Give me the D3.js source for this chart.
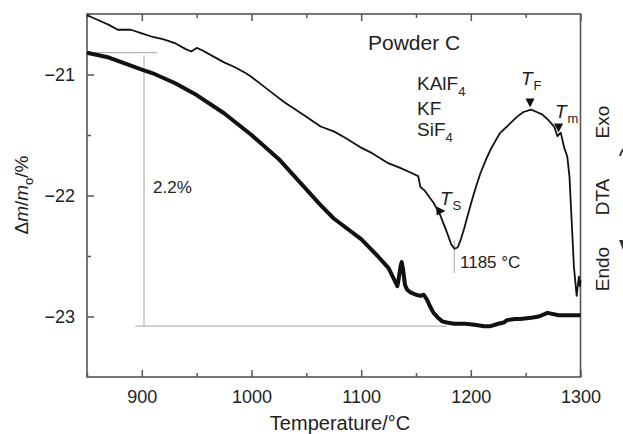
<!DOCTYPE html>
<html>
<head>
<meta charset="utf-8">
<script src="https://cdn.jsdelivr.net/npm/d3@7"></script>
<style>
    body { margin: 0; background: #fff; }
    svg text { font-family: "Liberation Sans", Arial, sans-serif; fill: #222; }
</style>
</head>
<body>
<div id="chart"></div>
<script>
// TG curve (thick): temperature / mass change %
let tgTemp = [850, 870, 900, 910, 930, 950, 975, 1000, 1025, 1050, 1063, 1075, 1100, 1115, 1125, 1133,
    1134, 1136, 1137, 1138, 1140, 1142, 1145, 1150, 1154, 1157, 1160, 1163, 1166, 1170, 1174, 1178,
    1185, 1195, 1205, 1212, 1218, 1225, 1230, 1233, 1240, 1245, 1255, 1262, 1270, 1280, 1290, 1300];
let tgMass = [-20.82, -20.86, -20.96, -20.99, -21.07, -21.17, -21.32, -21.50, -21.70, -21.95, -22.08, -22.19, -22.36, -22.50, -22.60, -22.75,
    -22.70, -22.58, -22.55, -22.60, -22.74, -22.78, -22.80, -22.82, -22.83, -22.82, -22.86, -22.92, -22.97, -23.01, -23.04, -23.05,
    -23.06, -23.06, -23.07, -23.08, -23.08, -23.06, -23.05, -23.03, -23.02, -23.02, -23.01, -23.00, -22.97, -22.99, -22.99, -22.99];

// DTA curve (thin), drawn on the same vertical scale
let dtaTemp = [850, 860, 870, 878, 885, 890, 900, 910, 920, 930, 940, 945, 950, 955, 965, 975, 985, 995,
    1000, 1010, 1020, 1030, 1040, 1050, 1063, 1075, 1085, 1099, 1110, 1124, 1135, 1145, 1152, 1154, 1158,
    1166, 1172, 1178, 1182, 1185, 1188, 1191, 1194, 1197, 1201, 1205, 1209, 1214, 1218, 1223, 1227, 1233,
    1242, 1248, 1255, 1260, 1265, 1270, 1276, 1279, 1282, 1285, 1288, 1290, 1291, 1292.5, 1294, 1296.5, 1298.5, 1299.5, 1300];
let dtaSignal = [-20.51, -20.55, -20.59, -20.63, -20.63, -20.63, -20.66, -20.69, -20.71, -20.74, -20.79, -20.81, -20.78, -20.80, -20.85, -20.90, -20.94, -20.99,
    -21.02, -21.09, -21.16, -21.23, -21.29, -21.35, -21.43, -21.47, -21.52, -21.60, -21.65, -21.73, -21.77, -21.81, -21.84, -21.93, -21.96,
    -22.06, -22.16, -22.30, -22.40, -22.44, -22.43, -22.36, -22.27, -22.17, -22.04, -21.92, -21.81, -21.70, -21.62, -21.54, -21.48, -21.43,
    -21.35, -21.31, -21.29, -21.31, -21.33, -21.37, -21.43, -21.51, -21.48, -21.60, -21.68, -21.85, -22.04, -22.31, -22.59, -22.83, -22.67, -22.75, -22.70];

let xTicks = [900, 1000, 1100, 1200, 1300];
let xMinorTicks = [850, 950, 1050, 1150, 1250];
let yTicks = [-21, -22, -23];
let yMinorTicks = [-20.5, -21.5, -22.5];

let width = 623;
let height = 434;

let x = d3.scaleLinear().domain([850, 1300]).range([87, 580.5]);
let y = d3.scaleLinear().domain([-23.5, -20.5]).range([377, 14]);

let svg = d3.select("#chart")
    .append("svg")
    .attr("width", width)
    .attr("height", height);

let frameColor = "#555";

// Ticks (inward) on bottom and top.
let xAxisBottom = d3.axisBottom(x).tickValues(xTicks).tickSizeInner(-7).tickSizeOuter(0).tickPadding(13)
    .tickFormat(d3.format("d"));
let xAxisBottomMinor = d3.axisBottom(x).tickValues(xMinorTicks).tickSizeInner(-4).tickSizeOuter(0).tickFormat("");
let xAxisTop = d3.axisTop(x).tickValues(xTicks).tickSizeInner(-7).tickSizeOuter(0).tickFormat("");
let xAxisTopMinor = d3.axisTop(x).tickValues(xMinorTicks).tickSizeInner(-4).tickSizeOuter(0).tickFormat("");
let yAxis = d3.axisLeft(y).tickValues(yTicks).tickSizeInner(-7).tickSizeOuter(0).tickPadding(12)
    .tickFormat(d => "\u2212" + Math.abs(d));
let yAxisMinor = d3.axisLeft(y).tickValues(yMinorTicks).tickSizeInner(-4).tickSizeOuter(0).tickFormat("");

function styleAxis(g) {
    g.select(".domain").remove();
    g.selectAll(".tick line").attr("stroke", frameColor).attr("stroke-width", 1.5);
    g.selectAll(".tick text")
        .attr("font-size", 18)
        .attr("font-family", "Liberation Sans, Arial, sans-serif")
        .attr("fill", "#222");
}

svg.append("g").attr("transform", `translate(0,${y.range()[0]})`).call(xAxisBottom).call(styleAxis);
svg.append("g").attr("transform", `translate(0,${y.range()[0]})`).call(xAxisBottomMinor).call(styleAxis);
svg.append("g").attr("transform", `translate(0,${y.range()[1]})`).call(xAxisTop).call(styleAxis);
svg.append("g").attr("transform", `translate(0,${y.range()[1]})`).call(xAxisTopMinor).call(styleAxis);
svg.append("g").attr("transform", `translate(${x.range()[0]},0)`).call(yAxis).call(styleAxis);
svg.append("g").attr("transform", `translate(${x.range()[0]},0)`).call(yAxisMinor).call(styleAxis);

// Frame.
svg.append("rect")
    .attr("x", x.range()[0])
    .attr("y", y.range()[1])
    .attr("width", x.range()[1] - x.range()[0])
    .attr("height", y.range()[0] - y.range()[1])
    .attr("fill", "none")
    .attr("stroke", frameColor)
    .attr("stroke-width", 1.6);

// Gray guide lines for the 2.2% mass loss and the 1185 °C minimum.
let guide = "#b5b5b5";
let guides = [
    [[850, -20.82], [914, -20.82]],
    [[902, -20.84], [902, -23.08]],
    [[894, -23.08], [1178, -23.08]],
    [[1185, -22.37], [1185, -22.64]]
];
guides.forEach(function(seg) {
    svg.append("line")
        .attr("x1", x(seg[0][0])).attr("y1", y(seg[0][1]))
        .attr("x2", x(seg[1][0])).attr("y2", y(seg[1][1]))
        .attr("stroke", guide)
        .attr("stroke-width", 1.2);
});

let line = d3.line()
    .x(d => x(d[0]))
    .y(d => y(d[1]));

// DTA curve.
svg.append("path")
    .datum(dtaTemp.map((t, i) => [t, dtaSignal[i]]))
    .attr("d", line)
    .attr("fill", "none")
    .attr("stroke", "#111")
    .attr("stroke-width", 1.8)
    .attr("stroke-linejoin", "round");

// TG curve.
svg.append("path")
    .datum(tgTemp.map((t, i) => [t, tgMass[i]]))
    .attr("d", line)
    .attr("fill", "none")
    .attr("stroke", "#111")
    .attr("stroke-width", 4)
    .attr("stroke-linejoin", "round");

// Labels inside the plot.
svg.append("text").attr("x", 368).attr("y", 50).attr("font-size", 21).text("Powder C");

function formula(xPos, yPos, main, sub) {
    let t = svg.append("text").attr("x", xPos).attr("y", yPos).attr("font-size", 19);
    t.append("tspan").text(main);
    if (sub) t.append("tspan").attr("font-size", 13).attr("dy", 6).text(sub);
}
formula(417, 90, "KAlF", "4");
formula(417, 115, "KF");
formula(417, 136, "SiF", "4");

svg.append("text").attr("x", 153).attr("y", 193).attr("font-size", 17).text("2.2%");
svg.append("text").attr("x", 460).attr("y", 268).attr("font-size", 17).text("1185 \u00B0C");

// Characteristic temperatures with markers.
function tLabel(xPos, yPos, sub) {
    let t = svg.append("text").attr("x", xPos).attr("y", yPos).attr("font-size", 19);
    t.append("tspan").attr("font-style", "italic").text("T");
    t.append("tspan").attr("font-size", 13).attr("dy", 5).attr("dx", 1).text(sub);
}
tLabel(521, 85, "F");
tLabel(555, 118, "m");
tLabel(440, 205, "S");

function triangle(cx, cy, dir) {
    let s = 4.5;
    let pts = dir === "down"
        ? [[cx - s, cy - s], [cx + s, cy - s], [cx, cy + s]]
        : [[cx - s, cy - s], [cx + s, cy], [cx - s, cy + s]];
    svg.append("path")
        .attr("d", "M" + pts.map(p => p.join(",")).join("L") + "Z")
        .attr("fill", "#111");
}
triangle(x(1254), 103, "down");
triangle(x(1280), 128, "down");
triangle(441, 211, "right");

// Axis titles.
svg.append("text")
    .attr("x", 340)
    .attr("y", 430)
    .attr("text-anchor", "middle")
    .attr("font-size", 20)
    .text("Temperature/\u00B0C");

let yTitle = svg.append("text")
    .attr("transform", "translate(28,195) rotate(-90)")
    .attr("text-anchor", "middle")
    .attr("font-size", 19);
yTitle.append("tspan").text("\u0394");
yTitle.append("tspan").attr("font-style", "italic").text("m");
yTitle.append("tspan").text("/");
yTitle.append("tspan").attr("font-style", "italic").text("m");
yTitle.append("tspan").attr("font-size", 13).attr("dy", 5).text("o");
yTitle.append("tspan").attr("dy", -5).text("/%");

// Right side DTA labels.
[["Exo", 122], ["DTA", 197], ["Endo", 269]].forEach(function(d) {
    svg.append("text")
        .attr("transform", `translate(609,${d[1]}) rotate(-90)`)
        .attr("text-anchor", "middle")
        .attr("font-size", 19)
        .text(d[0]);
});

// Arrow heads cut off at the right edge.
svg.append("path").attr("d", "M620,156 Q622,148 628,146").attr("fill", "none").attr("stroke", "#333").attr("stroke-width", 2);
svg.append("path").attr("d", "M619,240 L627,240 L623,250 Z").attr("fill", "#333");
</script>
</body>
</html>
